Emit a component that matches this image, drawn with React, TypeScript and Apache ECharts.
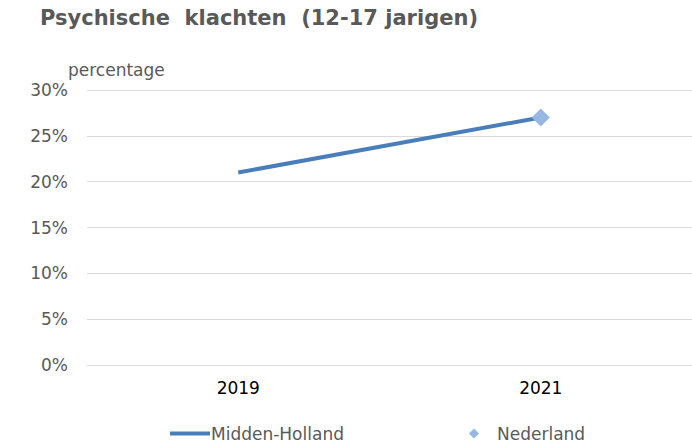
import React, { useEffect, useRef } from "react";
import * as echarts from "echarts";

const categories = ["2019", "2021"];
const middenHolland = [21, 27];
const nederland = ["-", 27];
const yTicks = [0, 5, 10, 15, 20, 25, 30];

export default function App() {
  const ref = useRef<HTMLDivElement>(null);
  useEffect(() => {
    const chart = echarts.init(ref.current!, null, { renderer: "svg" });
    const font = "DejaVu Sans, Verdana, sans-serif";
    chart.setOption({
      animation: false,
      backgroundColor: "#ffffff",
      title: {
        text: "Psychische  klachten  (12-17 jarigen)",
        left: 35,
        top: 2,
        textStyle: { fontFamily: font, fontSize: 21, fontWeight: "bold", color: "#595959" },
      },
      grid: { left: 87, width: 612, top: 90, bottom: 81, containLabel: false },
      xAxis: {
        type: "category",
        data: categories,
        boundaryGap: true,
        axisLine: { show: true, lineStyle: { color: "#d9d9d9" } },
        axisTick: { show: false },
        axisLabel: { fontFamily: font, fontSize: 17, color: "#000000", margin: 14 },
      },
      yAxis: {
        type: "value",
        min: yTicks[0],
        max: yTicks[yTicks.length - 1],
        interval: 5,
        name: "percentage",
        nameLocation: "end",
        nameGap: 12,
        nameTextStyle: { fontFamily: font, fontSize: 17, color: "#595959", align: "left", padding: [0, 0, 0, -19] },
        axisLine: { show: false },
        axisTick: { show: false },
        splitLine: { lineStyle: { color: "#d9d9d9", width: 1 } },
        axisLabel: { fontFamily: font, fontSize: 17, color: "#595959", margin: 19, formatter: (v: number) => v + "%" },
      },
      legend: [
        {
          data: [{ name: "Midden-Holland", icon: "rect" }],
          left: 170,
          top: 425,
          padding: 0,
          itemWidth: 40,
          itemHeight: 4,
          itemGap: 2,
          textStyle: { fontFamily: font, fontSize: 17, color: "#595959", padding: [0, 0, 0, -4] },
        },
        {
          data: [{ name: "Nederland", icon: "diamond" }],
          left: 469,
          top: 425,
          padding: 0,
          itemWidth: 10,
          itemHeight: 10,
          textStyle: { fontFamily: font, fontSize: 17, color: "#595959", padding: [0, 0, 0, 13] },
        },
      ],
      series: [
        {
          name: "Midden-Holland",
          type: "line",
          data: middenHolland,
          showSymbol: false,
          symbol: "none",
          lineStyle: { color: "#4a7ebb", width: 4 },
          itemStyle: { color: "#4a7ebb" },
          z: 2,
        },
        {
          name: "Nederland",
          type: "line",
          data: nederland,
          symbol: "diamond",
          symbolSize: 18,
          lineStyle: { width: 0, opacity: 0 },
          itemStyle: { color: "#95b8e3" },
          z: 3,
        },
      ],
    });
    return () => chart.dispose();
  }, []);
  return <div ref={ref} style={{ position: "fixed", left: 0, top: 0, width: 692, height: 446 }} />;
}
